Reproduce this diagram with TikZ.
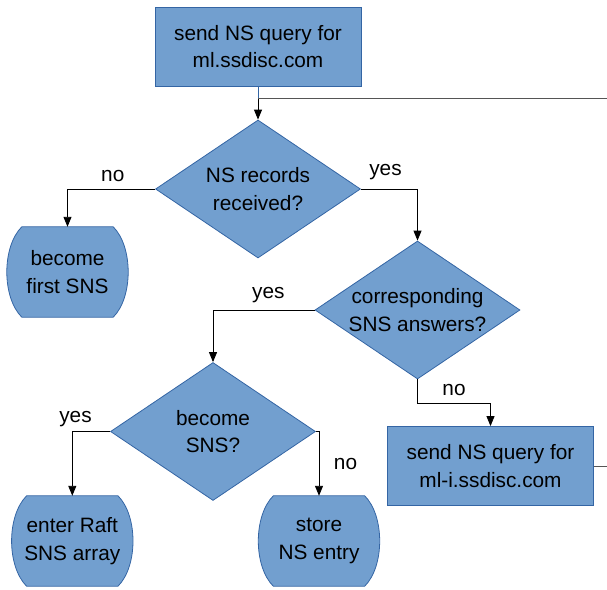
\documentclass[tikz,border=0pt]{standalone}
\usepackage{fontspec}
\setmainfont{Liberation Sans}
\usetikzlibrary{shapes.geometric,arrows.meta,backgrounds}
\definecolor{boxfill}{HTML}{729FCF}
\definecolor{boxline}{HTML}{3465A4}
\definecolor{lineg}{HTML}{555555}
\newcommand\fsz{\fontsize{20.8pt}{27.5pt}\selectfont}
\newcommand\barrelshape[1]{%
  \path[fill=boxfill, draw=boxline, line width=0.8pt]
    ([xshift=15pt]#1.north west) .. controls +(-20pt,-20pt) and +(-20pt,20pt) .. ([xshift=15pt]#1.south west)
    -- ([xshift=-15pt]#1.south east) .. controls +(20pt,20pt) and +(20pt,-20pt) .. ([xshift=-15pt]#1.north east)
    -- cycle;}
\tikzset{
  procbox/.style={rectangle, draw=boxline, fill=boxfill, line width=0.8pt,
    minimum width=206pt, minimum height=79pt, inner sep=0pt, align=center, font=\fsz},
  diam/.style={diamond, draw=boxline, fill=boxfill, line width=0.8pt,
    minimum width=205pt, minimum height=138pt, aspect=1.486, inner sep=-1pt,
    align=center, font=\fsz},
  term/.style={rectangle, minimum width=121pt, minimum height=90pt, inner sep=0pt,
    align=center, font=\fsz},
  conn/.style={line width=0.9pt, draw=black, -{Triangle[length=10pt,width=8pt]}},
  plain/.style={line width=0.9pt, draw=lineg},
  lbl/.style={font=\fsz, inner sep=0pt, anchor=base}
}
\begin{document}
\begin{tikzpicture}[x=1pt, y=-1pt]
\useasboundingbox (0,0) rectangle (607,589);
% process boxes
\node[procbox] (b1) at (258,46.5) {send NS query for\\ml.ssdisc.com};
\node[procbox] (b2) at (490.5,466) {send NS query for\\ml-i.ssdisc.com};
% decisions
\node[diam] (d1) at (258,189) {NS records\\received?};
\node[diam] (d2) at (417.5,310) {corresponding\\SNS answers?};
\node[diam] (d3) at (213,431.5) {become\\SNS?};
% terminals
\node[term] (t1) at (67.5,272) {become\\first SNS};
\node[term] (t2) at (72.3,541) {enter Raft\\SNS array};
\node[term] (t3) at (319,541) {store\\NS entry};
\begin{scope}[on background layer]
  \barrelshape{t1}
  \barrelshape{t2}
  \barrelshape{t3}
\end{scope}
% junctions and free ends
\coordinate (j1) at (258,98.5);
\coordinate (e1) at (607,98.5);
\coordinate (j2) at (417.5,403);
\coordinate (e2) at (607,466);
% connectors
\draw[line width=0.9pt, draw=boxline] (b1.south) -- (j1);
\draw[conn] (j1) -- (d1.north);
\draw[plain] (j1) -- (e1);
\draw[conn] (d1.west) -| (t1.north);
\draw[conn] (d1.east) -| (d2.north);
\draw[conn] (d2.west) -| (d3.north);
\draw[conn] (d3.west) -| (t2.north);
\draw[conn] (d3.east) -| (t3.north);
\draw[conn] (d2.south) -- (j2) -| (b2.north);
\draw[plain] (b2.east) -- (e2);
% labels
\node[lbl] (l1) at (112.8,181.7) {no};
\node[lbl] (l2) at (385.5,175) {yes};
\node[lbl] (l3) at (268.3,298.3) {yes};
\node[lbl] (l4) at (454,395) {no};
\node[lbl] (l5) at (75.5,422.7) {yes};
\node[lbl] (l6) at (345.5,469) {no};
\end{tikzpicture}
\end{document}
